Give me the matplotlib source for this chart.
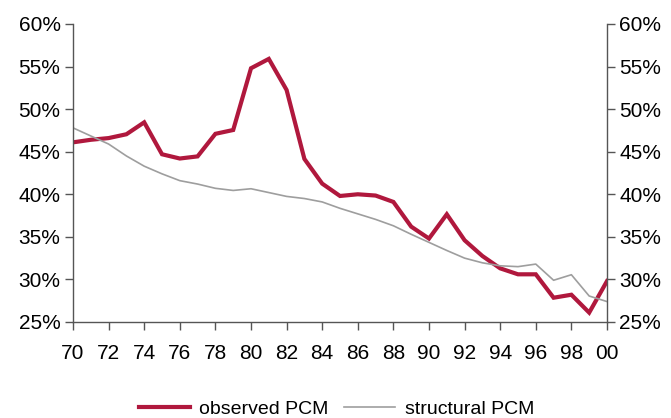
import matplotlib
matplotlib.use("Agg")
import matplotlib.pyplot as plt
from matplotlib.ticker import FuncFormatter, MultipleLocator

years = list(range(1970, 2001))
observed = [46.1, 46.4, 46.6, 47.05, 48.45, 44.7, 44.2, 44.45, 47.1, 47.55,
            54.8, 55.9, 52.25, 44.15, 41.25, 39.8, 40.0, 39.85, 39.1, 36.2,
            34.8, 37.65, 34.6, 32.75, 31.3, 30.6, 30.6, 27.85, 28.2, 26.1, 29.8]
structural = [47.8, 46.85, 45.9, 44.5, 43.3, 42.4, 41.6, 41.2, 40.7, 40.45,
              40.65, 40.2, 39.75, 39.5, 39.1, 38.35, 37.7, 37.05, 36.3, 35.3,
              34.35, 33.4, 32.5, 31.95, 31.6, 31.5, 31.8, 29.9, 30.55, 28.05, 27.4]
xtick_years = list(range(1970, 2001, 2))
xtick_labels = [f"{y % 100:02d}" for y in xtick_years]

plt.rcParams['font.family'] = ['Liberation Sans', 'DejaVu Sans']

fig = plt.figure(figsize=(6.71, 4.18), dpi=100)
ax = fig.add_axes([0.1088, 0.2297, 0.9046 - 0.1088, 0.9426 - 0.2297])

ax.plot(years, observed, color='#B0183D', lw=3.0, label='observed PCM', solid_joinstyle='miter')
ax.plot(years, structural, color='#9E9E9E', lw=1.2, label='structural PCM')

ax.set_xlim(1970, 2000)
ax.set_ylim(25, 60)
ax.yaxis.set_major_locator(MultipleLocator(5))
ax.yaxis.set_major_formatter(FuncFormatter(lambda v, p: f"{v:.0f}%"))
ax.set_xticks(xtick_years)
ax.set_xticklabels(xtick_labels)

for s in ['left', 'bottom', 'right']:
    ax.spines[s].set_color('#555555')
    ax.spines[s].set_linewidth(1.0)
ax.spines['top'].set_visible(False)

ax.tick_params(axis='both', direction='out', length=6, width=1, color='#555555',
               labelsize=15, labelcolor='black')
ax.tick_params(axis='x', pad=10)
ax.tick_params(axis='y', which='both', left=True, right=True, labelleft=True, labelright=True, pad=3)

fig.legend(loc='center', bbox_to_anchor=(0.5015, 0.022), ncol=2, frameon=False,
           fontsize=14, handlelength=2.6, handletextpad=0.5, columnspacing=0.8,
           borderpad=0.1)

fig.savefig('out.png', dpi=100)
